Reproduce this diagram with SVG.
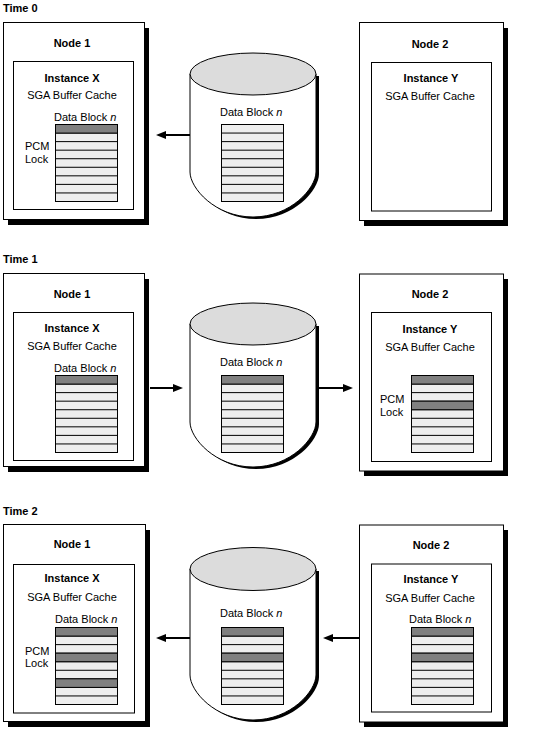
<svg xmlns="http://www.w3.org/2000/svg" width="536" height="730" viewBox="0 0 536 730">
<style>
text{font-family:"Liberation Sans",Arial,sans-serif;font-size:11px;fill:#000}
.b{font-weight:bold}
.m{text-anchor:middle}
.box{fill:#fff;stroke:#000;stroke-width:1}
.sh{fill:#000}
.top{fill:#dcdcdc;stroke:#000;stroke-width:1}
.dk{fill:#808080;stroke:#000;stroke-width:1}
.conn{fill:none;stroke:#000;stroke-width:2}
</style>
<defs>
<marker id="ah" viewBox="0 0 10 8" refX="4" refY="4" markerWidth="10" markerHeight="8" markerUnits="userSpaceOnUse" orient="auto">
<path d="M0,0 L10,4 L0,8 Z" fill="#000"/>
</marker>
<g id="stk">
<rect x="0.5" y="0.5" width="62" height="77" fill="#eeeeee" stroke="#000"/>
<path d="M0.5,9.06H62.5M0.5,17.61H62.5M0.5,26.17H62.5M0.5,34.72H62.5M0.5,43.28H62.5M0.5,51.83H62.5M0.5,60.39H62.5M0.5,68.94H62.5" stroke="#000" stroke-width="1" fill="none"/>
</g>
<path id="cylBody0" d="M190,74 L190,172 C190,188 215,217 253,217 C291,217 316,188 316,172 L316,74 Z"/>
<path id="cylBody2" d="M190,569 L190,675 C190,691 215,720 253,720 C291,720 316,691 316,675 L316,569 Z"/>
</defs>

<text x="3" y="12" class="b">Time 0</text>
<text x="3" y="263" class="b">Time 1</text>
<text x="3" y="515" class="b">Time 2</text>

<!-- Time 0 -->
<g id="t0-node1">
<rect x="8" y="28" width="141" height="197" class="sh"/>
<rect x="3.5" y="22.5" width="141" height="197" class="box"/>
<rect x="13.5" y="61.5" width="120" height="148" class="box"/>
<text x="72" y="47" class="b m">Node 1</text>
<text x="72" y="82" class="b m">Instance X</text>
<text x="72" y="99" class="m">SGA Buffer Cache</text>
<text x="54" y="121">Data Block <tspan font-style="italic">n</tspan></text>
<use href="#stk" x="55" y="124"/>
<rect x="55.5" y="124.5" width="62" height="8.56" class="dk"/>
<text x="25" y="150">PCM</text>
<text x="25" y="162.5">Lock</text>
</g>
<g id="t0-disk">
<use href="#cylBody0" transform="translate(3,2)" class="sh"/>
<use href="#cylBody0" class="box"/>
<ellipse cx="253" cy="74" rx="63" ry="21" class="top"/>
<text x="220" y="116">Data Block <tspan font-style="italic">n</tspan></text>
<use href="#stk" x="221" y="124"/>
</g>
<g id="t0-node2">
<rect x="364" y="28" width="144" height="198" class="sh"/>
<rect x="359.5" y="22.5" width="144" height="198" class="box"/>
<rect x="371.5" y="62.5" width="120" height="148.5" class="box"/>
<text x="430" y="47.5" class="b m">Node 2</text>
<text x="431" y="82" class="b m">Instance Y</text>
<text x="430" y="100" class="m">SGA Buffer Cache</text>
</g>

<!-- Time 1 -->
<g id="t1-node1">
<rect x="8" y="279" width="141" height="193" class="sh"/>
<rect x="3.5" y="273.5" width="141" height="193" class="box"/>
<rect x="13.5" y="312.5" width="120" height="148" class="box"/>
<text x="72" y="298" class="b m">Node 1</text>
<text x="72" y="332" class="b m">Instance X</text>
<text x="72" y="350" class="m">SGA Buffer Cache</text>
<text x="54" y="372">Data Block <tspan font-style="italic">n</tspan></text>
<use href="#stk" x="55" y="375"/>
<rect x="55.5" y="375.5" width="62" height="8.56" class="dk"/>
</g>
<g id="t1-disk">
<use href="#cylBody0" transform="translate(3,252)" class="sh"/>
<use href="#cylBody0" transform="translate(0,250)" class="box"/>
<ellipse cx="253" cy="324" rx="63" ry="21" class="top"/>
<text x="220" y="366">Data Block <tspan font-style="italic">n</tspan></text>
<use href="#stk" x="221" y="375"/>
<rect x="221.5" y="375.5" width="62" height="8.56" class="dk"/>
</g>
<g id="t1-node2">
<rect x="364" y="279" width="144" height="197" class="sh"/>
<rect x="359.5" y="274" width="144" height="197" class="box"/>
<rect x="371.5" y="312.5" width="120" height="149" class="box"/>
<text x="430" y="298" class="b m">Node 2</text>
<text x="430" y="333" class="b m">Instance Y</text>
<text x="430" y="351" class="m">SGA Buffer Cache</text>
<use href="#stk" x="411" y="375"/>
<rect x="411.5" y="375.5" width="62" height="8.56" class="dk"/>
<rect x="411.5" y="401.17" width="62" height="8.56" class="dk"/>
<text x="380" y="403">PCM</text>
<text x="380" y="416">Lock</text>
</g>

<!-- Time 2 -->
<g id="t2-node1">
<rect x="8" y="530" width="142" height="197" class="sh"/>
<rect x="3.5" y="524.5" width="142" height="197" class="box"/>
<rect x="13.5" y="564.5" width="121" height="148.5" class="box"/>
<text x="72" y="548" class="b m">Node 1</text>
<text x="72" y="582" class="b m">Instance X</text>
<text x="72" y="601" class="m">SGA Buffer Cache</text>
<text x="55" y="623">Data Block <tspan font-style="italic">n</tspan></text>
<use href="#stk" x="55" y="627"/>
<rect x="55.5" y="627.5" width="62" height="8.56" class="dk"/>
<rect x="55.5" y="653.17" width="62" height="8.56" class="dk"/>
<rect x="55.5" y="678.83" width="62" height="8.56" class="dk"/>
<text x="25" y="655">PCM</text>
<text x="25" y="667">Lock</text>
</g>
<g id="t2-disk">
<use href="#cylBody2" transform="translate(3,2)" class="sh"/>
<use href="#cylBody2" class="box"/>
<ellipse cx="253" cy="569" rx="63" ry="21.5" class="top"/>
<text x="220" y="617">Data Block <tspan font-style="italic">n</tspan></text>
<use href="#stk" x="221" y="627"/>
<rect x="221.5" y="627.5" width="62" height="8.56" class="dk"/>
<rect x="221.5" y="653.17" width="62" height="8.56" class="dk"/>
</g>
<g id="t2-node2">
<rect x="364" y="530" width="144" height="197" class="sh"/>
<rect x="359.5" y="525" width="144" height="197" class="box"/>
<rect x="371.5" y="564" width="120" height="148" class="box"/>
<text x="431" y="549" class="b m">Node 2</text>
<text x="431" y="583" class="b m">Instance Y</text>
<text x="430" y="602" class="m">SGA Buffer Cache</text>
<text x="409" y="623">Data Block <tspan font-style="italic">n</tspan></text>
<use href="#stk" x="411" y="627"/>
<rect x="411.5" y="627.5" width="62" height="8.56" class="dk"/>
<rect x="411.5" y="653.17" width="62" height="8.56" class="dk"/>
</g>

<g id="connectors">
<path d="M190,135 L162,135" class="conn" marker-end="url(#ah)"/>
<path d="M150,388 L177,388" class="conn" marker-end="url(#ah)"/>
<path d="M319,388 L347,388" class="conn" marker-end="url(#ah)"/>
<path d="M190,638 L162,638" class="conn" marker-end="url(#ah)"/>
<path d="M359,638 L329,638" class="conn" marker-end="url(#ah)"/>
</g>
</svg>
